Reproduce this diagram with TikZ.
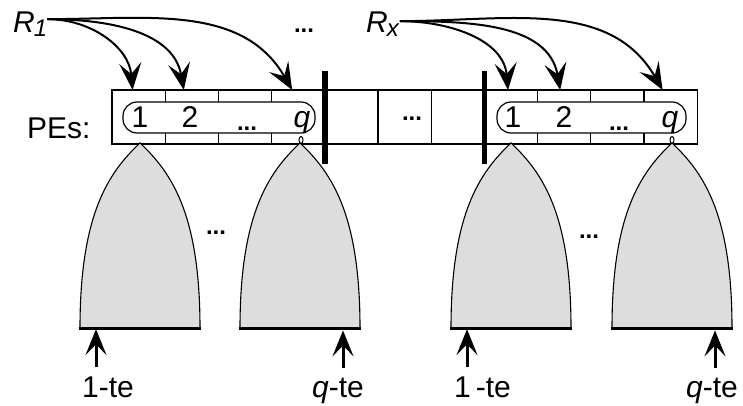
\documentclass[tikz,border=0pt]{standalone}
\usepackage{fontspec}
\setmainfont{Liberation Sans}
\usetikzlibrary{arrows.meta, positioning}
\definecolor{bellgray}{RGB}{221,221,221}
\tikzset{
    cell/.style={rectangle, draw, line width=1.2pt, minimum width=53.2pt, minimum height=54pt, inner sep=0pt, outer sep=0pt},
    group/.style={rectangle, draw, fill=white, line width=1.2pt, rounded corners=14pt, inner sep=0pt},
    lbl/.style={inner sep=0pt, font=\fontsize{30}{34}\selectfont},
    dots/.style={inner sep=0pt, font=\fontsize{24}{28}\selectfont\bfseries},
    bar/.style={line width=5.5pt},
    bell/.style={fill=bellgray, draw, line width=1.1pt},
    feed/.style={-{Stealth[length=27pt, width=22pt, inset=11pt]}, line width=2pt},
    entry/.style={-{Stealth[length=26pt, width=21pt, inset=11pt]}, line width=3pt}
}
\newcommand{\Rsub}[1]{\textit{R}\kern-1pt\raisebox{-4pt}{\fontsize{24}{24}\selectfont\textit{#1}}}

\begin{document}
\begin{tikzpicture}[x=1pt, y=1pt]
    \useasboundingbox (0,0) rectangle (743,405);

    % row of PEs
    \node[cell] (c0) at (138.6,288) {};
    \foreach \i [remember=\i as \j (initially 0)] in {1,...,10}
        \node[cell, right=0pt of c\j] (c\i) {};
    \node[lbl, anchor=base west] (pes) at (27,267) {PEs:};
    \node[dots] (mid) at (412,286) {...};

    \draw[bar] ([yshift=-20pt]c3.south east) -- ([yshift=19pt]c3.north east);
    \draw[bar] ([yshift=-20pt]c6.south east) -- ([yshift=19pt]c6.north east);

    % the two groups
    \node[group, minimum width=192pt, minimum height=31pt] (g1) at (219,287.5) {};
    \node[group, minimum width=189pt, minimum height=31pt] (g2) at (591.5,287.5) {};

    \node[lbl, anchor=base] (a1) at (140,277) {1};
    \node[lbl, anchor=base] (a2) at (190,277) {2};
    \node[dots] (adots) at (247,276) {...};
    \node[lbl, anchor=base] (aq) at (302,277) {\textit{q}};
    \node[lbl, anchor=base] (b1) at (513,277) {1};
    \node[lbl, anchor=base] (b2) at (564,277) {2};
    \node[dots] (bdots) at (619,276) {...};
    \node[lbl, anchor=base] (bq) at (670,277) {\textit{q}};

    % trees
    \foreach \cx in {140,300,511,672} {
        \draw[bell] (\cx-60,77) .. controls (\cx-60,190) and (\cx-32,232) .. (\cx,262)
            .. controls (\cx+32,232) and (\cx+60,190) .. (\cx+60,77);
        \draw[line width=3pt] (\cx-61,77) -- (\cx+61,77);
    }
    \draw[line width=1pt] (301,265) ellipse (2 and 3.5);
    \draw[line width=1pt] (672,265) ellipse (2 and 3.5);
    \node[dots] (tdots1) at (216,172) {...};
    \node[dots] (tdots2) at (589,168) {...};

    % sources
    \node[lbl, anchor=base west] (R1) at (13,372) {\Rsub{1}};
    \node[lbl, anchor=base west] (Rx) at (366,372) {\Rsub{x}};
    \node[dots] (topdots) at (304,374) {...};

    \draw[feed] ([yshift=-7pt]R1.north east) to[out=0, in=95] ([xshift=-6pt]c0.north);
    \draw[feed] ([yshift=-7pt]R1.north east) to[out=0, in=100] ([xshift=-8pt]c1.north);
    \draw[feed] ([yshift=-7pt]R1.north east) to[out=0, in=120] ([xshift=-6pt]c3.north);
    \draw[feed] ([yshift=-9pt]Rx.north east) to[out=0, in=95] ([xshift=-3pt]c7.north);
    \draw[feed] ([yshift=-9pt]Rx.north east) to[out=0, in=100] ([xshift=-4pt]c8.north);
    \draw[feed] ([yshift=-9pt]Rx.north east) to[out=0, in=120] ([xshift=-8pt]c10.north);

    % entry points
    \node[lbl, anchor=base west] (t1) at (82,8) {1-te};
    \node[lbl, anchor=base west] (t2) at (312,8) {\textit{q}-te};
    \node[lbl, anchor=base west] (t3) at (454,8) {1\,-te};
    \node[lbl, anchor=base west] (t4) at (686,8) {\textit{q}-te};
    \draw[entry] ([xshift=14pt, yshift=9pt]t1.north west) -- ++(0,38);
    \draw[entry] ([xshift=31pt, yshift=9pt]t2.north west) -- ++(0,38);
    \draw[entry] ([xshift=13pt, yshift=9pt]t3.north west) -- ++(0,38);
    \draw[entry] ([xshift=29pt, yshift=9pt]t4.north west) -- ++(0,38);
\end{tikzpicture}
\end{document}
